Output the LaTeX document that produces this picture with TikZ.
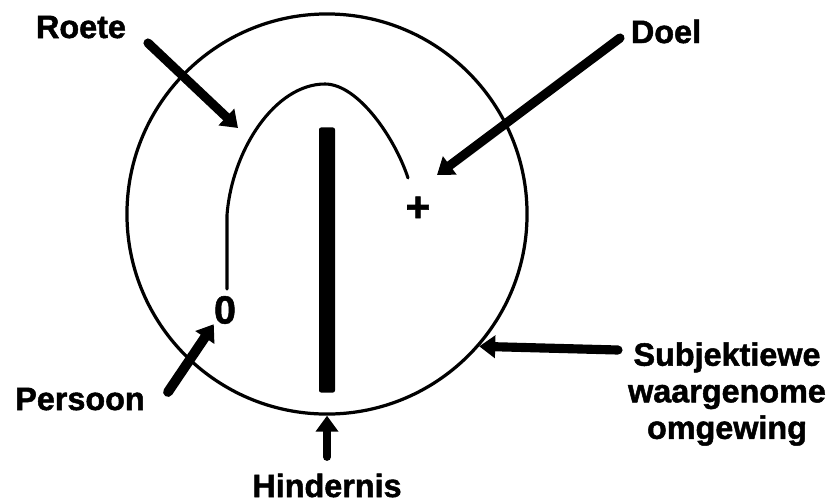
\documentclass[tikz,border=0pt]{standalone}
\usepackage{fontspec}
\setmainfont{Liberation Sans}[BoldFeatures={FakeBold=1.5}]
\usetikzlibrary{arrows.meta,positioning}
\tikzset{
  tekst/.style={font=\bfseries\fontsize{23}{26}\selectfont, text=black, inner sep=0pt, align=center},
  teken/.style={font=\bfseries\fontsize{#1}{#1}\selectfont, inner sep=0pt},
  pijl/.style={-{Triangle[length=4mm, width=5.5mm]}, line width=#1, line cap=round},
  pijl/.default=6.5pt,
  lyn/.style={line width=2.2pt, line cap=round}
}

\begin{document}
\begin{tikzpicture}[x=0.025cm, y=-0.025cm]
  \useasboundingbox (0,0) rectangle (834,502);
  % omgewing en hindernis
  \node[draw, circle, line width=2.3pt, minimum size=10cm, inner sep=0pt] (omgewing) at (327,214) {};
  \node[fill, minimum width=0.4cm, minimum height=6.625cm, rounded corners=1.5pt, inner sep=0pt] (hinder) at (327,260) {};
  \node[teken=28] (nul) at (225,310) {0};
  \node[teken=30] (plus) at (418,209) {+};
  % roete
  \draw[lyn] (227,289) -- (227,215) .. controls (232,150) and (275,84) .. (325,84)
    .. controls (358,84) and (395,138) .. (408,178);
  % byskrifte
  \node[tekst, anchor=base] (roete) at (81,38) {Roete};
  \node[tekst, anchor=base] (doel) at (666,43) {Doel};
  \node[tekst, anchor=base] (persoon) at (80,410) {Persoon};
  \node[tekst, anchor=base] (hindernis) at (327,497) {Hindernis};
  \node[tekst] (subjektief) at (727,394) {Subjektiewe\\waargenome\\omgewing};
  % pyle
  \coordinate (roete-uit) at (148,43);
  \coordinate (roete-in) at (238,128);
  \coordinate (doel-uit) at (620,38);
  \coordinate (doel-in) at (437,175);
  \coordinate (persoon-uit) at (168,392);
  \coordinate (subjektief-uit) at (618,350);
  \coordinate (hindernis-uit) at (327,457);
  \draw[pijl] (roete-uit) -- (roete-in);
  \draw[pijl] (doel-uit) -- (doel-in);
  \draw[pijl=7pt] (persoon-uit) -- (nul.south west);
  \draw[pijl] (subjektief-uit) -- (omgewing.-41);
  \draw[pijl=5.5pt] (hindernis-uit) -- (omgewing.south);
\end{tikzpicture}
\end{document}
